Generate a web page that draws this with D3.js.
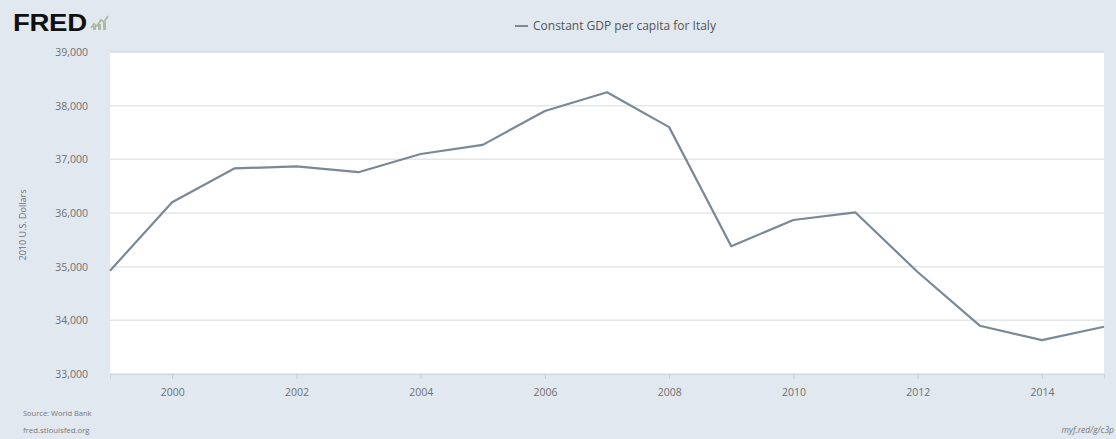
<!DOCTYPE html>
<html><head><meta charset="utf-8">
<script src="https://cdn.jsdelivr.net/npm/d3@7"></script>
<style>
body{margin:0;background:#e1e8f0;}
svg{display:block;font-family:"Open Sans",sans-serif;}
</style></head>
<body>
<svg id="c" width="1116" height="439"></svg>
<script>
const years = [1999,2000,2001,2002,2003,2004,2005,2006,2007,2008,2009,2010,2011,2012,2013,2014,2015];
const gdp = [34925,36200,36830,36870,36760,37100,37270,37900,38250,37600,35380,35870,36010,34900,33900,33630,33880];
const yTicks = [33000,34000,35000,36000,37000,38000,39000];
const xTicks = [2000,2002,2004,2006,2008,2010,2012,2014];
const seriesName = "Constant GDP per capita for Italy";
const yLabel = "2010 U.S. Dollars";

const svg = d3.select("#c");
const W = 1116, H = 439;
const m = {l:110, r:12, t:52, b:65};
svg.append("rect").attr("width",W).attr("height",H).attr("fill","#e1e8f0");

const x = d3.scaleLinear().domain([1999,2015]).range([m.l, W-m.r]);
const y = d3.scaleLinear().domain([33000,39000]).range([H-m.b, m.t]);

svg.append("rect").attr("x",m.l).attr("y",m.t).attr("width",W-m.r-m.l).attr("height",H-m.b-m.t).attr("fill","#ffffff");

// grid
svg.append("g").selectAll("line").data(yTicks).join("line")
  .attr("x1",m.l).attr("x2",W-m.r).attr("y1",d=>y(d)).attr("y2",d=>y(d))
  .attr("stroke",d=>d===39000?"#d8dce2":"#e4e6ea").attr("stroke-width",1.5);

// y axis
const ya = svg.append("g").attr("transform",`translate(${m.l},0)`)
  .call(d3.axisLeft(y).tickValues(yTicks).tickFormat(d3.format(",")).tickSize(0).tickPadding(22));
ya.select(".domain").remove();
ya.selectAll("text").attr("fill","#707070").attr("font-size",10.5).attr("font-family","Open Sans");

// x axis
const xa = svg.append("g").attr("transform",`translate(0,${H-m.b})`)
  .call(d3.axisBottom(x).tickValues(xTicks).tickFormat(d3.format("d")).tickSize(5).tickPadding(10));
xa.select(".domain").attr("stroke","#d0d6de");
xa.selectAll(".tick line").attr("stroke","#c8ced6");
xa.selectAll("text").attr("fill","#707070").attr("font-size",10.5).attr("font-family","Open Sans");

// line
const line = d3.line().x((d,i)=>x(years[i])).y(d=>y(d));
svg.append("path").datum(gdp).attr("d",line).attr("fill","none")
  .attr("stroke","#7b8895").attr("stroke-width",2.2).attr("stroke-linejoin","round");

// y label
svg.append("text").attr("transform","translate(26,225) rotate(-90)").attr("text-anchor","middle")
  .attr("font-size",9).attr("fill","#707070").text(yLabel);

// legend
const lg = svg.append("g");
lg.append("line").attr("x1",515).attr("x2",528).attr("y1",26).attr("y2",26).attr("stroke","#7b8895").attr("stroke-width",2);
lg.append("text").attr("x",533).attr("y",30).attr("font-size",12).attr("fill","#555").text(seriesName);

// FRED logo
svg.append("text").attr("transform","translate(13,31) scale(1.15,1)").attr("font-family","Liberation Sans, Arial, sans-serif")
  .attr("font-weight","900").attr("font-size",24).attr("fill","#111").attr("letter-spacing","-0.3").text("FRED");
const ic = svg.append("g").attr("transform","translate(91,14)");
ic.append("path").attr("d","M0,14 L3,10 L6,12 L10,6 L13,8 L17,2").attr("fill","none").attr("stroke","#a9bca0").attr("stroke-width",1.8);
ic.append("rect").attr("x",2).attr("y",12).attr("width",3).attr("height",4).attr("fill","#a9bca0");
ic.append("rect").attr("x",7).attr("y",10).attr("width",3).attr("height",6).attr("fill","#a9bca0");
ic.append("rect").attr("x",12).attr("y",8).attr("width",3).attr("height",8).attr("fill","#a9bca0");

// footer
svg.append("text").attr("x",23).attr("y",416).attr("font-size",7.5).attr("fill","#777").text("Source: World Bank");
svg.append("text").attr("x",23).attr("y",433).attr("font-size",7.8).attr("fill","#777").text("fred.stlouisfed.org");
svg.append("text").attr("x",1114).attr("y",433).attr("text-anchor","end").attr("font-size",8.5).attr("font-style","italic").attr("fill","#777").text("myf.red/g/c3p");
</script>
</body></html>
